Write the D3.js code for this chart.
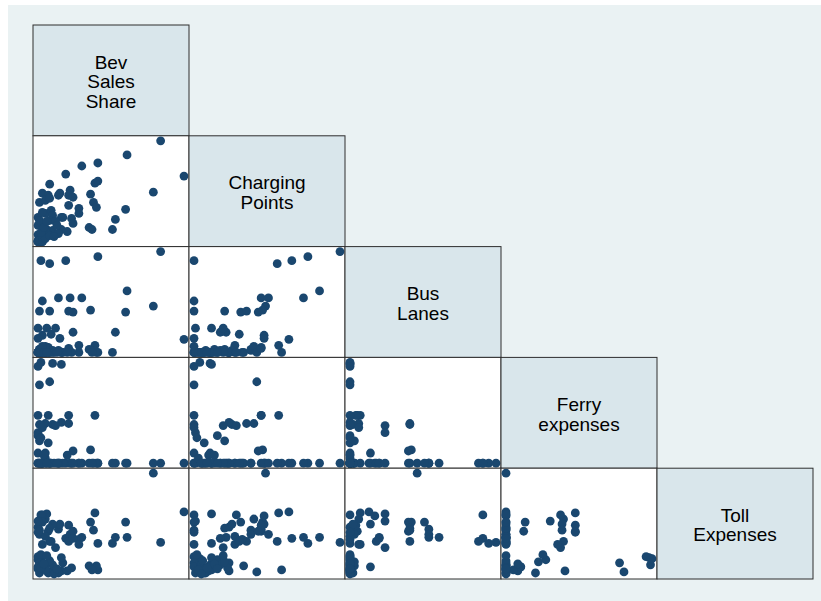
<!DOCTYPE html>
<html>
<head>
<meta charset="utf-8">
<script src="https://cdn.jsdelivr.net/npm/d3@7"></script>
<style>
  body { margin: 0; background: #ffffff; }
  #chart { width: 821px; height: 601px; }
</style>
</head>
<body>
<div id="chart"></div>
<script>
// variable labels, one line per entry
const varLabels = [
  ['Bev', 'Sales', 'Share'],
  ['Charging', 'Points'],
  ['Bus', 'Lanes'],
  ['Ferry', 'expenses'],
  ['Toll', 'Expenses']
];

// one value per observation, same order in every array
const bevShare = [84,100,61,41,30,19,41,39,8,79,36,38,40,60,53,51,35,37,3,7,1,5,8,14,15,22,21,24,21,28,28,0,5,9,10,16,17,23,24,0,3,6,10,16,20,14,0,2,7,5,1,8,3,12,2,3,1,0,0,1,0,2,0,1,3,3,5,8,11,2,4,6,13];
const chargingPoints = [100,65,86,78,75,67,60,58,57,49,47,39,34,32,22,12,14,12,48,46,39,41,43,46,48,51,46,44,36,33,28,24,28,31,26,24,24,23,18,16,18,12,11,12,10,8,7,4,7,11,21,21,29,20,0,0,0,1,0,0,0,2,0,1,0,5,3,6,5,9,14,20,16];
const busLanes = [100,13,61,95,54,91,0,7,88,46,42,2,0,40,20,0,3,0,17,5,3,6,0,54,14,54,4,40,41,0,7,0,0,18,2,0,0,0,20,0,2,24,0,0,0,2,0,0,0,0,3,41,0,24,91,51,41,24,0,0,0,0,14,0,6,0,0,0,0,0,0,0,0];
const ferryExpenses = [0,0,0,0,0,0,0,47,0,0,13,0,0,0,0,0,0,0,0,47,0,39,80,0,0,0,47,12,39,0,0,0,0,0,38,40,0,0,0,27,0,0,98,97,8,0,0,99,20,10,22,0,37,37,0,0,38,30,95,77,47,25,10,0,35,0,5,0,0,0,8,0,0];
const tollExpenses = [32,62,37,31,37,36,5,61,33,100,52,44,9,52,37,31,9,5,58,43,40,55,3,45,50,40,49,43,33,35,30,47,38,33,50,4,12,7,36,15,10,60,10,17,4,2,6,16,2,8,13,46,59,27,59,52,44,53,18,12,42,20,8,2,30,10,5,14,1,7,11,19,6];

const columns = [bevShare, chargingPoints, busLanes, ferryExpenses, tollExpenses];

const W = 821, H = 601;
const gridLeft = 33, gridTop = 25;
const cellW = 156, cellH = 110.8;
const inset = 5;
const nVars = columns.length;

const svg = d3.select('#chart')
  .append('svg')
  .attr('width', W)
  .attr('height', H);

// graph region background
svg.append('rect')
  .attr('x', 8).attr('y', 5)
  .attr('width', W - 8).attr('height', H - 5)
  .attr('fill', '#eaf2f3');

//one x and one y scale per variable, fitted to the data range of a cell
const xScales = columns.map(col => d3.scaleLinear()
  .domain(d3.extent(col))
  .range([inset, cellW - inset]));
const yScales = columns.map(col => d3.scaleLinear()
  .domain(d3.extent(col))
  .range([cellH - inset, inset]));

const idx = d3.range(bevShare.length);

for (let i = 0; i < nVars; i++) {
  for (let j = 0; j <= i; j++) {
    const g = svg.append('g')
      .attr('transform', 'translate(' + (gridLeft + j * cellW) + ',' + (gridTop + i * cellH) + ')');

    if (i === j) {
      g.append('rect')
        .attr('width', cellW).attr('height', cellH)
        .attr('fill', '#d9e6eb')
        .attr('stroke', '#2e2e2e')
        .attr('stroke-width', 1);
      const lines = varLabels[i];
      const lh = 19.5;
      g.append('text')
        .attr('text-anchor', 'middle')
        .attr('font-family', 'Liberation Sans, Arial, sans-serif')
        .attr('font-size', '19px')
        .attr('fill', '#000')
        .selectAll('tspan')
        .data(lines)
        .join('tspan')
        .attr('x', cellW / 2)
        .attr('y', (d, k) => cellH / 2 + (k - (lines.length - 1) / 2) * lh + 8)
        .text(d => d);
    } else {
      g.append('rect')
        .attr('width', cellW).attr('height', cellH)
        .attr('fill', '#ffffff')
        .attr('stroke', '#2e2e2e')
        .attr('stroke-width', 1);
      const xs = xScales[j], ys = yScales[i];
      g.selectAll('circle')
        .data(idx)
        .join('circle')
        .attr('cx', k => xs(columns[j][k]))
        .attr('cy', k => ys(columns[i][k]))
        .attr('r', 4.4)
        .attr('fill', '#1a476f');
    }
  }
}
</script>
</body>
</html>
